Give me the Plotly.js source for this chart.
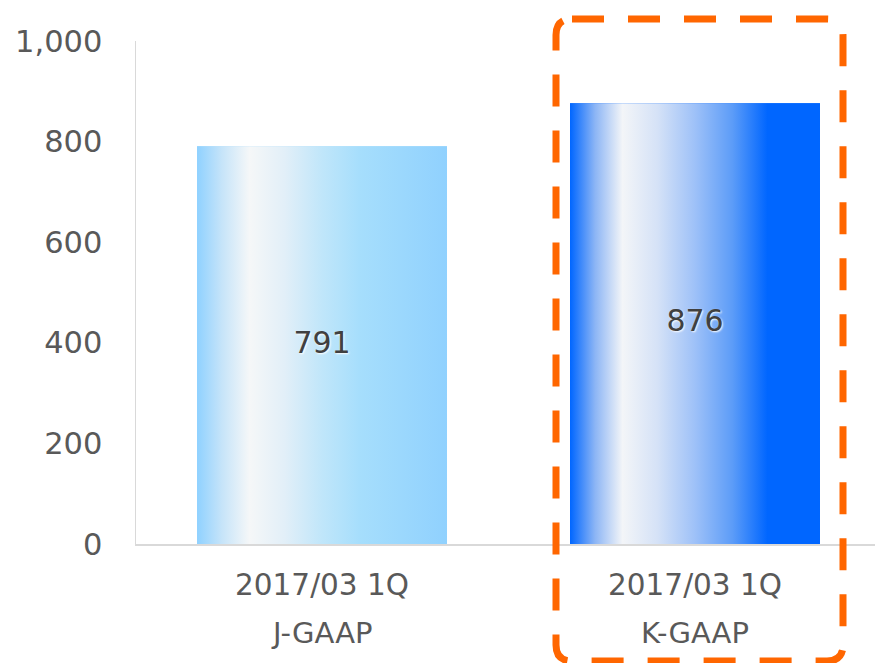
<!DOCTYPE html>
<html>
<head>
<meta charset="utf-8">
<script src="https://cdn.plot.ly/plotly-3.0.1.min.js"></script>
<style>html,body{margin:0;padding:0;background:#fff;}#chart{width:875px;height:663px;}</style>
</head>
<body>
<div id="chart"></div>
<script>
// ---- data ----
const periods = ["2017/03 1Q", "2017/03 1Q"];
const standards = ["J-GAAP", "K-GAAP"];
const values = [791, 876];
const yTicks = [0, 200, 400, 600, 800, 1000];
const yTickLabels = ["0", "200", "400", "600", "800", "1,000"];

// ---- styles ----
const barWidth = 0.67;
const baseColors = ["#A5DBFC", "#0066FF"];
const gradients = [
  [[0, "#8FD1FF"], [0.1, "#C6E4F9"], [0.21, "#F5F7F8"], [0.35, "#E2EFF8"], [0.5, "#C0E6FA"], [0.65, "#A6DEFC"], [1, "#90D1FE"]],
  [[0, "#0066FF"], [0.1, "#8CB5F5"], [0.21, "#F3F5F8"], [0.35, "#D5E2F7"], [0.5, "#9EC1F8"], [0.65, "#5C9CF8"], [0.79, "#0066FF"], [1, "#0066FF"]]
];
const fontFam = "DejaVu Sans, Verdana, sans-serif";
const idx = values.map((v, i) => i);

const traces = [];
// underlying bars
traces.push({
  type: "bar", x: idx, y: values, width: barWidth,
  marker: {color: baseColors, line: {width: 0}},
  hoverinfo: "skip", showlegend: false
});
// gradient overlays
values.forEach((v, i) => {
  const x0 = i - barWidth / 2, x1 = i + barWidth / 2;
  traces.push({
    type: "scatter", mode: "lines",
    x: [x0, x1, x1, x0, x0], y: [0, 0, v, v, 0],
    fill: "toself", line: {width: 0, color: "rgba(0,0,0,0)"},
    fillcolor: baseColors[i],
    fillgradient: {type: "horizontal", colorscale: gradients[i]},
    hoverinfo: "skip", showlegend: false
  });
});
// value labels
traces.push({
  type: "scatter", mode: "text",
  x: idx, y: values.map(v => v / 2), text: values.map(v => String(v)),
  textposition: "middle center",
  textfont: {family: fontFam, size: 30, color: "#404040", shadow: "1px 1px 2px #ffffff"},
  hoverinfo: "skip", showlegend: false
});

// plot area in pixels
const L = 136, R = 875, T = 41, B = 544;
const px = x => (x - L) / (R - L);
const py = y => (B - y) / (B - T);
// rounded dashed box
const bx0 = 556, bx1 = 843, by0 = 19, by1 = 661, rad = 16;
const pathPts = [
  ["M", bx0 + rad, by0], ["L", bx1 - rad, by0], ["Q", bx1, by0, bx1, by0 + rad],
  ["L", bx1, by1 - rad], ["Q", bx1, by1, bx1 - rad, by1],
  ["L", bx0 + rad, by1], ["Q", bx0, by1, bx0, by1 - rad],
  ["L", bx0, by0 + rad], ["Q", bx0, by0, bx0 + rad, by0]
];
const pathStr = pathPts.map(p => {
  const c = p[0]; const nums = p.slice(1);
  const out = [];
  for (let k = 0; k < nums.length; k += 2) out.push(px(nums[k]).toFixed(5) + "," + py(nums[k + 1]).toFixed(5));
  return c + out.join(" ");
}).join(" ") + " Z";

const layout = {
  width: 875, height: 663,
  margin: {l: L, r: 875 - R, t: T, b: 663 - B, pad: 0},
  paper_bgcolor: "#ffffff", plot_bgcolor: "#ffffff",
  showlegend: false,
  font: {family: fontFam, color: "#595959"},
  xaxis: {
    range: [-0.4987, -0.4987 + (R - L) / 373], tickvals: idx, ticktext: periods,
    showgrid: false, zeroline: false, showline: true, linecolor: "#D9D9D9", linewidth: 1.5,
    ticks: "", tickfont: {family: fontFam, size: 29.5, color: "#595959"},
    ticklabelstandoff: 14, fixedrange: true
  },
  yaxis: {
    range: [0, 1000], tickvals: yTicks, ticktext: yTickLabels,
    showgrid: false, zeroline: false, showline: true, linecolor: "#D9D9D9", linewidth: 1.5,
    ticks: "", tickfont: {family: fontFam, size: 30.5, color: "#595959"},
    ticklabelstandoff: 26, fixedrange: true
  },
  annotations: standards.map((s, i) => ({
    x: i, xref: "x", y: py(633), yref: "paper", text: s, showarrow: false,
    xanchor: "center", yanchor: "middle",
    font: {family: fontFam, size: 29, color: "#595959"}
  })),
  shapes: [{
    type: "path", xref: "paper", yref: "paper", path: pathStr,
    line: {color: "#FF6600", width: 7, dash: "32px,24px"}, layer: "above"
  }]
};

Plotly.newPlot("chart", traces, layout, {displayModeBar: false, staticPlot: true});
</script>
</body>
</html>
